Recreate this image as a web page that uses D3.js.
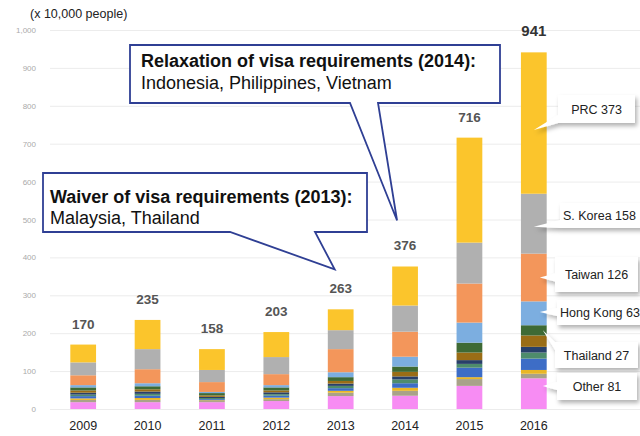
<!DOCTYPE html>
<html>
<head>
<meta charset="utf-8">
<script src="https://cdn.jsdelivr.net/npm/d3@7"></script>
<style>
  body { margin: 0; background: #fff; }
  svg { display: block; font-family: "Liberation Sans", Arial, sans-serif; }
</style>
</head>
<body>
<svg id="chart" width="640" height="436"></svg>
<script>
// visitors per year (x 10,000 people)
const years = ["2009", "2010", "2011", "2012", "2013", "2014", "2015", "2016"];
const totals = [170, 235, 158, 203, 263, 376, 716, 941];

const prc = [47, 77, 55, 66, 55, 103, 277, 373];
const korea = [34, 53, 32, 45, 50, 69, 108, 158];
const taiwan = [26, 37, 26, 29, 61, 66, 103, 126];
const hongKong = [6, 8, 3, 6, 13, 26, 53, 63];
const thailand = [8, 8, 6, 8, 10, 14, 26, 27];
const vietnam = [6, 6, 4, 5, 7, 12, 20, 30];
const malaysia = [5, 6, 3, 5, 6, 8, 10, 15];
const philippines = [4, 5, 3, 4, 6, 10, 10, 16];
const indonesia = [6, 6, 3, 5, 7, 12, 25, 30];
const singapore = [4, 5, 2, 4, 5, 8, 5, 10];
const usa = [6, 6, 3, 5, 9, 13, 18, 12];
const other = [18, 18, 18, 21, 34, 35, 61, 81];

const yTicks = [0, 100, 200, 300, 400, 500, 600, 700, 800, 900, 1000];

// stack order, bottom to top
const keys = ["Other", "USA", "Singapore", "Indonesia", "Philippines", "Malaysia",
  "Vietnam", "Thailand", "Hong Kong", "Taiwan", "S. Korea", "PRC"];
const valuesByKey = {
  "Other": other, "USA": usa, "Singapore": singapore, "Indonesia": indonesia,
  "Philippines": philippines, "Malaysia": malaysia, "Vietnam": vietnam,
  "Thailand": thailand, "Hong Kong": hongKong, "Taiwan": taiwan,
  "S. Korea": korea, "PRC": prc,
};

const colours = {
  "Other": "#f78cf3", "USA": "#a9a289", "Singapore": "#e9b626",
  "Indonesia": "#3d6dc6", "Philippines": "#4e8c6c", "Malaysia": "#28406a",
  "Vietnam": "#9a6d16", "Thailand": "#3e6a35", "Hong Kong": "#7caee0",
  "Taiwan": "#f3965b", "S. Korea": "#b0b0b0", "PRC": "#fbc52c",
};

const table = years.map((yr, i) => {
  const row = { year: yr };
  keys.forEach((k) => (row[k] = valuesByKey[k][i]));
  return row;
});

const svg = d3.select("#chart");
const width = 640;

const x = d3.scaleBand().domain(years).range([51, 566]).paddingInner(0.6).paddingOuter(0.3);
const y = d3.scaleLinear().domain([0, 1000]).range([409, 30]);

// drop shadow for the side labels
const defs = svg.append("defs");
const shadow = defs.append("filter").attr("id", "shadow")
  .attr("x", "-20%").attr("y", "-20%").attr("width", "150%").attr("height", "160%");
shadow.append("feDropShadow")
  .attr("dx", 2).attr("dy", 3).attr("stdDeviation", 2)
  .attr("flood-color", "#000").attr("flood-opacity", 0.3);

// gridlines + y labels
const grid = svg.append("g").attr("class", "grid");
grid.selectAll("line").data(yTicks).enter().append("line")
  .attr("x1", 50).attr("x2", width)
  .attr("y1", (d) => y(d) + 0.5).attr("y2", (d) => y(d) + 0.5)
  .attr("stroke", "#ececec").attr("stroke-width", 1);
grid.selectAll("text").data(yTicks).enter().append("text")
  .attr("x", 36).attr("y", (d) => y(d) + 3)
  .attr("text-anchor", "end")
  .attr("font-size", 8).attr("fill", "#aaa")
  .text((d) => d3.format(",")(d));

svg.append("text").attr("x", 30).attr("y", 18)
  .attr("font-size", 12.5).attr("fill", "#222")
  .text("(x 10,000 people)");

// stacked bars
const stacked = d3.stack().keys(keys)(table);
const layers = svg.append("g").selectAll(".layer").data(stacked).enter()
  .append("g").attr("class", "layer").attr("fill", (d) => colours[d.key]);
layers.selectAll("rect").data((d) => d).enter().append("rect")
  .attr("x", (d) => x(d.data.year))
  .attr("y", (d) => y(d[1]))
  .attr("width", x.bandwidth())
  .attr("height", (d) => y(d[0]) - y(d[1]));

// totals above bars
const lastIdx = years.length - 1;
svg.append("g").selectAll("text").data(years).enter().append("text")
  .attr("x", (d) => x(d) + x.bandwidth() / 2)
  .attr("y", (d, i) => y(totals[i]) - 16)
  .attr("text-anchor", "middle")
  .attr("font-size", (d, i) => (i === lastIdx ? 15 : 13.5))
  .attr("font-weight", "bold")
  .attr("fill", (d, i) => (i === lastIdx ? "#333" : "#555"))
  .text((d, i) => totals[i]);

// x labels
svg.append("g").selectAll("text").data(years).enter().append("text")
  .attr("x", (d) => x(d) + x.bandwidth() / 2)
  .attr("y", 430)
  .attr("text-anchor", "middle")
  .attr("font-size", 12.5).attr("fill", "#222")
  .text((d) => d);

// callout boxes with pointer
const drawCallout = (c) => {
  const [l, t, r, b] = c.box;
  const path = `M${l},${t}H${r}V${b}H${c.base[1]}L${c.tip[0]},${c.tip[1]}L${c.base[0]},${b}H${l}Z`;
  svg.append("path").attr("d", path)
    .attr("fill", "#fff").attr("stroke", "#2f3f94").attr("stroke-width", 1.8)
    .attr("stroke-linejoin", "miter");
  svg.append("text").attr("x", l + c.pad).attr("y", c.lines[0])
    .attr("font-size", 18).attr("font-weight", "bold").attr("fill", "#111")
    .text(c.title);
  svg.append("text").attr("x", l + c.pad).attr("y", c.lines[1])
    .attr("font-size", 18).attr("fill", "#111")
    .text(c.body);
};

const i13 = years.indexOf("2013");
const i14 = years.indexOf("2014");
drawCallout({
  box: [43, 173, 367, 232], base: [230, 315],
  tip: [x("2013") + x.bandwidth() / 2 - 6, y(totals[i13]) - 40],
  pad: 7, lines: [203, 224],
  title: "Waiver of visa requirements (2013):",
  body: "Malaysia, Thailand",
});
drawCallout({
  box: [130, 45, 500, 103], base: [350, 378],
  tip: [x("2014") + x.bandwidth() / 2 - 8, y(totals[i14]) - 46],
  pad: 11, lines: [67, 89],
  title: "Relaxation of visa requirements (2014):",
  body: "Indonesia, Philippines, Vietnam",
});

// side labels for 2016
const seg = (key) => stacked.find((s) => s.key === key)[lastIdx];
const sideLabels = [
  { key: "PRC", text: "PRC 373", box: [558, 95, 77, 28], dx: 0, frac: 0.45, anchor: "middle" },
  { key: "S. Korea", text: "S. Korea 158", box: [560, 203, 90, 25], dx: 0, frac: 0.45, anchor: "start" },
  { key: "Taiwan", text: "Taiwan 126", box: [555, 257, 83, 35], dx: 6, frac: 0.5, anchor: "middle" },
  { key: "Hong Kong", text: "Hong Kong 63", box: [557, 300, 90, 25], dx: 6, frac: 0.55, anchor: "start" },
  { key: "Thailand", text: "Thailand 27", box: [555, 342, 83, 26], dx: 9, frac: 0.5, anchor: "middle" },
  { key: "Other", text: "Other 81", box: [557, 373, 80, 27], dx: 9, frac: 0.75, anchor: "middle" },
];

sideLabels.forEach((s) => {
  const d = seg(s.key);
  const tipX = x(years[lastIdx]) + x.bandwidth() / 2 + s.dx;
  const tipY = y(d[0] + (d[1] - d[0]) * s.frac);
  const [l, t, w, h] = s.box;
  const b = t + h;
  const by = Math.max(t + 4, Math.min(b - 4, tipY));
  const path = `M${l},${t}H${l + w}V${b}H${l}V${by + 4}L${tipX},${tipY}L${l},${by - 4}Z`;
  svg.append("path").attr("d", path)
    .attr("fill", "#fff").attr("filter", "url(#shadow)");
  svg.append("text")
    .attr("x", s.anchor === "middle" ? l + w / 2 : l + 3)
    .attr("y", t + h / 2 + 4.5)
    .attr("text-anchor", s.anchor)
    .attr("font-size", 12.5).attr("fill", "#222")
    .text(s.text);
});
</script>
</body>
</html>
